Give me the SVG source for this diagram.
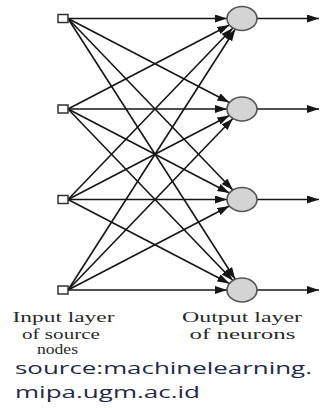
<svg xmlns="http://www.w3.org/2000/svg" width="322" height="408" viewBox="0 0 322 408">
<style>
.sq{fill:#fff;stroke:#333;stroke-width:1.5}
.neuron{fill:#d4d4d4;stroke:#555;stroke-width:1.6}
.edge{stroke:#161616;stroke-width:1.6;fill:none;marker-end:url(#ah)}
.lbl{font-family:"Liberation Serif","DejaVu Serif",serif;font-size:15px;fill:#2a2a2a;text-anchor:middle}
.src{font-family:"Open Sans","DejaVu Sans",sans-serif;font-size:17px;fill:#1f2a48}
</style>
<defs>
<marker id="ah" viewBox="0 0 12 8" refX="12" refY="4" markerWidth="12" markerHeight="8" markerUnits="userSpaceOnUse" orient="auto">
<path d="M0,0 L12,4 L0,8 z" fill="#161616"/>
</marker>
</defs>
<rect width="322" height="408" fill="#fff"/>
<g id="connectors">
<line class="edge" x1="68" y1="18.5" x2="227" y2="18.5"/>
<line class="edge" x1="68" y1="18.5" x2="229.4" y2="102.5"/>
<line class="edge" x1="68" y1="18.5" x2="232.9" y2="190"/>
<line class="edge" x1="68" y1="18.5" x2="235.2" y2="279.3"/>
<line class="edge" x1="68" y1="109" x2="229.4" y2="25"/>
<line class="edge" x1="68" y1="109" x2="227" y2="109"/>
<line class="edge" x1="68" y1="109" x2="229.4" y2="193"/>
<line class="edge" x1="68" y1="109" x2="232.9" y2="280.5"/>
<line class="edge" x1="68" y1="199.5" x2="232.9" y2="28"/>
<line class="edge" x1="68" y1="199.5" x2="229.4" y2="115.5"/>
<line class="edge" x1="68" y1="199.5" x2="227" y2="199.5"/>
<line class="edge" x1="68" y1="199.5" x2="229.4" y2="283.5"/>
<line class="edge" x1="68" y1="290" x2="235.2" y2="29.2"/>
<line class="edge" x1="68" y1="290" x2="232.9" y2="118.5"/>
<line class="edge" x1="68" y1="290" x2="229.4" y2="206"/>
<line class="edge" x1="68" y1="290" x2="227" y2="290"/>
<line class="edge" x1="257" y1="18.5" x2="319" y2="18.5"/>
<line class="edge" x1="257" y1="109" x2="319" y2="109"/>
<line class="edge" x1="257" y1="199.5" x2="319" y2="199.5"/>
<line class="edge" x1="257" y1="290" x2="319" y2="290"/>
</g>
<g id="input1"><rect class="sq" x="58" y="14.5" width="10" height="8"/></g>
<g id="input2"><rect class="sq" x="58" y="105" width="10" height="8"/></g>
<g id="input3"><rect class="sq" x="58" y="195.5" width="10" height="8"/></g>
<g id="input4"><rect class="sq" x="58" y="286" width="10" height="8"/></g>
<g id="output1"><ellipse class="neuron" cx="242" cy="18.5" rx="15" ry="12"/></g>
<g id="output2"><ellipse class="neuron" cx="242" cy="109" rx="15" ry="12"/></g>
<g id="output3"><ellipse class="neuron" cx="242" cy="199.5" rx="15" ry="12"/></g>
<g id="output4"><ellipse class="neuron" cx="242" cy="290" rx="15" ry="12"/></g>
<g id="input-label">
<text class="lbl" x="63.5" y="322" textLength="102" lengthAdjust="spacingAndGlyphs">Input layer</text>
<text class="lbl" x="61" y="338.5" textLength="78" lengthAdjust="spacingAndGlyphs">of source</text>
<text class="lbl" x="57.5" y="354" textLength="41" lengthAdjust="spacingAndGlyphs">nodes</text>
</g>
<g id="output-label">
<text class="lbl" x="242" y="322" textLength="120" lengthAdjust="spacingAndGlyphs">Output layer</text>
<text class="lbl" x="242.5" y="338.5" textLength="106" lengthAdjust="spacingAndGlyphs">of neurons</text>
</g>
<g id="source">
<text class="src" x="15" y="374" textLength="297" lengthAdjust="spacingAndGlyphs">source:machinelearning.</text>
<text class="src" x="15" y="398" textLength="185" lengthAdjust="spacingAndGlyphs">mipa.ugm.ac.id</text>
</g>
</svg>
